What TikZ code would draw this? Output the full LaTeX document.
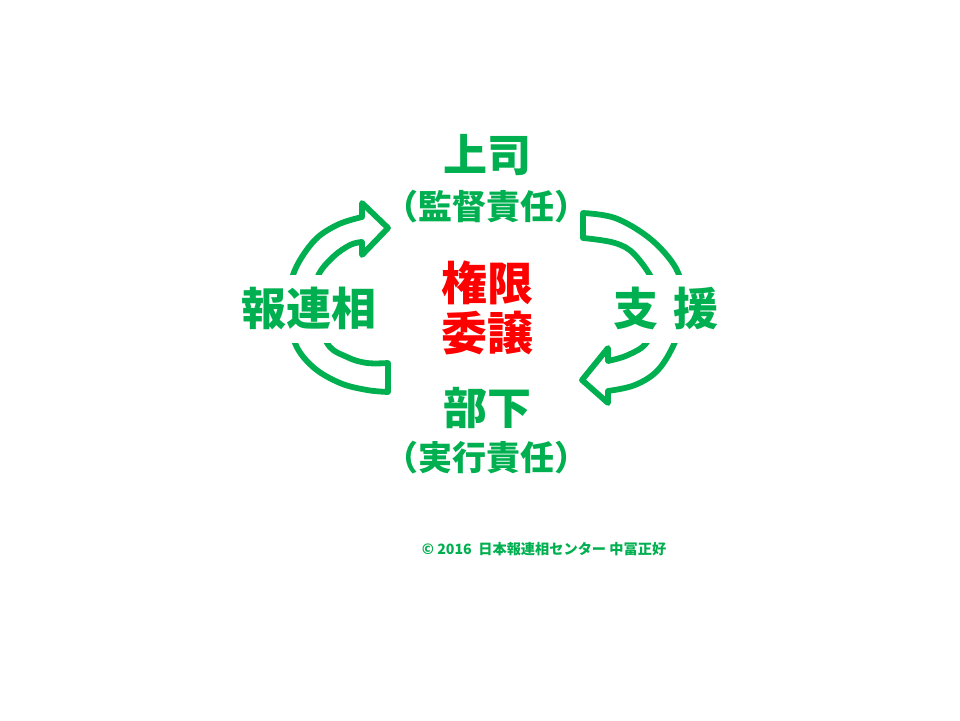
\documentclass[tikz,border=0pt]{standalone}
\usepackage{fontspec}
\newfontfamily\jp{Noto Sans CJK JP}
\definecolor{pgreen}{RGB}{0,176,80}
\definecolor{pred}{RGB}{255,0,0}
\begin{document}
\begin{tikzpicture}[x=1pt,y=-1pt,
  arrowshape/.style={draw=pgreen,line width=5.8pt,fill=white,line join=round},
  big/.style={font=\jp\bfseries\fontsize{44}{50}\selectfont,text=pgreen,inner sep=0pt},
  paren/.style={font=\jp\bfseries\fontsize{34}{40}\selectfont,text=pgreen,inner sep=0pt},
  side/.style={font=\jp\bfseries\fontsize{45}{50}\selectfont,text=pgreen,fill=white,inner xsep=4pt,minimum height=68pt,text height=38pt,text depth=6pt},
  centre/.style={font=\jp\bfseries\fontsize{46}{50}\selectfont,text=pred,inner sep=0pt},
  copy/.style={font=\jp\bfseries\fontsize{14.2}{16}\selectfont,text=pgreen,inner sep=0pt}]
\path[use as bounding box,fill=white] (0,0) rectangle (960,720);
% left arrow (報連相: up)
\draw[arrowshape] (388,363) -- (388,392)
  -- plot[smooth,tension=0.6] coordinates {(388,392)(367,390)(340,383)(313,367)(295,343)(291,310)(293,275)(313,242)(337,225)(362,217)}
  -- (362,203) -- (388,228) -- (362,255) -- (362,242)
  -- plot[smooth,tension=0.6] coordinates {(362,242)(350,245)(333,257)(318,276)(314,302)(327,343)(347,357)(367,363)(388,363)}
  -- cycle;
% right arrow (支援: down)
\draw[arrowshape] (583,238) -- (583,213)
  -- plot[smooth,tension=0.6] coordinates {(583,213)(615,218)(648,237)(672,262)(682,285)(684,312)(675,342)(658,370)(635,385)(608,391)}
  -- (608,403) -- (582,380) -- (608,348) -- (608,361)
  -- plot[smooth,tension=0.6] coordinates {(608,361)(628,355)(647,342)(657,312)(655,285)(635,255)(615,243)(583,238)}
  -- cycle;
\node[big] (boss) at (487,155) {上司};
\node[paren] (bossr) at (486,207) {（監督責任）};
\node[big] (sub) at (487,408) {部下};
\node[paren] (subr) at (486,458) {（実行責任）};
\node[side] (hou) at (309,309) {報連相};
\node[side] (shien) at (666,309) {支\hspace{15pt}援};
\node[centre] (ken) at (487,283) {権限};
\node[centre] (iku) at (487,333) {委譲};
\node[copy] (cr) at (544,549) {© 2016\ \ 日本報連相センター 中冨正好};
\end{tikzpicture}
\end{document}
